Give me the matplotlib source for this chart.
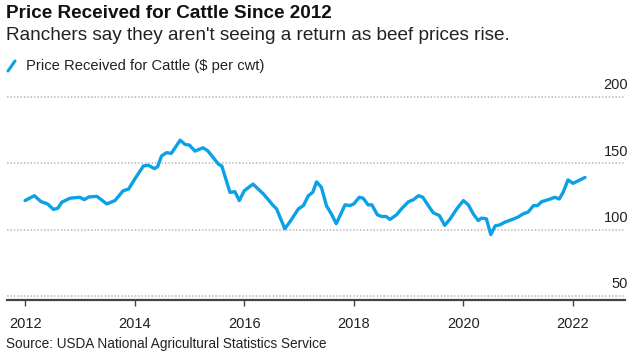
import matplotlib
matplotlib.use("Agg")
import matplotlib.pyplot as plt
from matplotlib.lines import Line2D
import matplotlib.transforms as mtransforms

# ---- data (decimal year, $ per cwt) ----
dates = [2012.00, 2012.17, 2012.29, 2012.41, 2012.52, 2012.60, 2012.67, 2012.82,
         2013.00, 2013.08, 2013.16, 2013.31, 2013.49, 2013.64, 2013.79, 2013.89,
         2014.00, 2014.16, 2014.25, 2014.36, 2014.42, 2014.49, 2014.58, 2014.67,
         2014.83, 2014.92, 2015.00, 2015.10, 2015.25, 2015.34, 2015.53, 2015.59,
         2015.74, 2015.83, 2015.91, 2016.00, 2016.16, 2016.35, 2016.53, 2016.59,
         2016.74, 2016.83, 2016.99, 2017.08, 2017.17, 2017.25, 2017.32, 2017.41,
         2017.50, 2017.59, 2017.68, 2017.75, 2017.84, 2017.93, 2018.00, 2018.10,
         2018.17, 2018.26, 2018.33, 2018.43, 2018.51, 2018.59, 2018.66, 2018.78,
         2018.87, 2019.00, 2019.09, 2019.18, 2019.26, 2019.36, 2019.45, 2019.56,
         2019.66, 2019.76, 2019.88, 2020.00, 2020.09, 2020.18, 2020.27, 2020.33,
         2020.42, 2020.50, 2020.58, 2020.67, 2020.76, 2020.88, 2021.00, 2021.09,
         2021.18, 2021.28, 2021.35, 2021.43, 2021.55, 2021.67, 2021.75, 2021.82,
         2021.91, 2022.00, 2022.13, 2022.22]
prices = [121.9, 125.6, 121.1, 119.4, 115.2, 116.2, 120.7, 123.7,
          124.4, 122.6, 124.6, 125.1, 119.4, 121.9, 129.3, 130.6,
          138.0, 148.0, 148.5, 146.0, 147.5, 155.5, 158.0, 157.5,
          167.4, 164.2, 163.7, 159.2, 161.7, 159.2, 149.3, 148.0,
          128.1, 128.6, 121.9, 129.3, 134.3, 126.9, 118.1, 115.7,
          100.7, 105.7, 115.7, 118.1, 125.6, 128.1, 136.0, 131.8,
          118.1, 111.9, 104.5, 110.7, 118.7, 118.1, 119.4, 124.4,
          123.7, 118.7, 118.7, 111.2, 109.9, 109.9, 107.7, 111.2,
          115.7, 121.1, 122.6, 125.6, 124.4, 118.1, 112.7, 110.7,
          103.2, 108.2, 115.7, 121.9, 118.7, 111.9, 106.9, 108.7,
          108.2, 96.3, 102.8, 103.7, 105.7, 107.5, 109.5, 111.9,
          113.2, 118.1, 118.1, 121.1, 122.6, 124.4, 123.1, 128.1,
          137.5, 134.9, 137.5, 139.3]

x_ticks = [2012, 2014, 2016, 2018, 2020, 2022]
y_ticks = [50, 100, 150, 200]

title = "Price Received for Cattle Since 2012"
subtitle = "Ranchers say they aren't seeing a return as beef prices rise."
series_label = "Price Received for Cattle ($ per cwt)"
source = "Source: USDA National Agricultural Statistics Service"

# ---- style ----
FONT = ["Liberation Sans", "DejaVu Sans"]
plt.rcParams["font.family"] = FONT
BLUE = "#0ba1e6"
TXT = "#222222"

W, H = 635, 357
fig = plt.figure(figsize=(W / 100, H / 100), dpi=100)
fig.patch.set_facecolor("white")

ax_left, ax_right = 7 / W, 625 / W
ax_bottom, ax_top = 1 - 300 / H, 1 - 95.6 / H
ax = fig.add_axes([ax_left, ax_bottom, ax_right - ax_left, ax_top - ax_bottom])

ax.plot(dates, prices, color=BLUE, lw=2.4, solid_joinstyle="round",
        solid_capstyle="round", zorder=3)

ax.set_xlim(2011.67, 2022.95)
ax.set_ylim(47, 201)

for v in y_ticks:
    ax.axhline(v, color="#b8b8b8", lw=1.1, ls=(0, (1, 1.2)), zorder=1)

trans = mtransforms.blended_transform_factory(ax.transAxes, ax.transData)
for v in y_ticks:
    ax.text(1.005, v + 3.5, str(v), transform=trans, ha="right", va="bottom",
            fontsize=10.5, color=TXT)

for s in ["top", "right", "left"]:
    ax.spines[s].set_visible(False)
ax.spines["bottom"].set_color("#444444")
ax.spines["bottom"].set_linewidth(1.6)
ax.set_yticks([])
ax.set_xticks(x_ticks)
ax.set_xticklabels([str(t) for t in x_ticks], fontsize=10.5, color=TXT)
ax.tick_params(axis="x", direction="out", length=4, width=1, color="#444444", pad=8)
ax.set_facecolor("none")

fig.text(6 / W, 1 - 5 / H, title, ha="left", va="top", fontsize=13.6,
         fontweight="bold", color="#111111")
fig.text(6 / W, 1 - 27 / H, subtitle, ha="left", va="top", fontsize=13.7,
         color=TXT)
fig.add_artist(Line2D([8 / W, 15 / W], [1 - 71 / H, 1 - 61 / H], color=BLUE,
                      lw=2.2, solid_capstyle="round"))
fig.text(26 / W, 1 - 66 / H, series_label, ha="left", va="center", fontsize=10.6,
         color=TXT)
fig.text(6 / W, 1 - 344 / H, source, ha="left", va="center", fontsize=9.8,
         color=TXT)

fig.savefig("out.png", dpi=100, facecolor="white")
